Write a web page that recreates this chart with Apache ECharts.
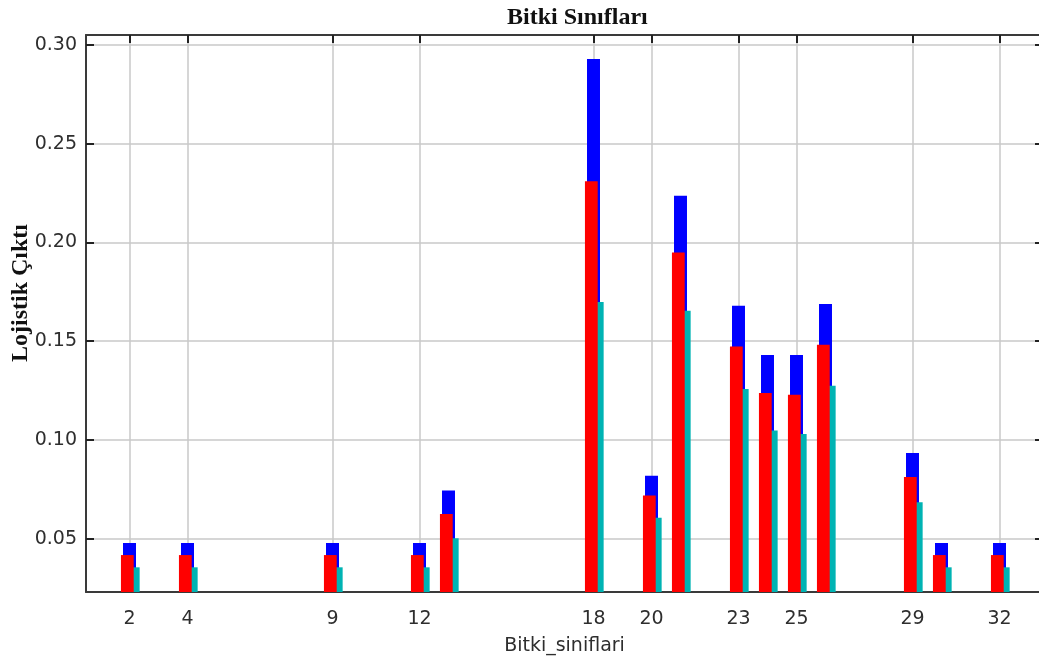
<!DOCTYPE html>
<html>
<head>
<meta charset="utf-8">
<style>
  html, body { margin: 0; padding: 0; background: #fff; }
  #chart { width: 1039px; height: 662px; }
</style>
<script src="https://cdn.jsdelivr.net/npm/echarts@6/dist/echarts.min.js"></script>
</head>
<body>
<div id="chart"></div>
<script>
// ---- data ----
const classes   = [2, 4, 9, 12, 13, 18, 20, 21, 23, 24, 25, 26, 29, 30, 32];
const blueVals  = [0.0478, 0.0478, 0.0478, 0.0478, 0.0744, 0.2928, 0.0819, 0.2236, 0.1679, 0.1430, 0.1430, 0.1688, 0.0934, 0.0478, 0.0478];
const redVals   = [0.0417, 0.0417, 0.0417, 0.0417, 0.0625, 0.2310, 0.0718, 0.1949, 0.1473, 0.1237, 0.1229, 0.1482, 0.0812, 0.0417, 0.0417];
const cyanVals  = [0.0355, 0.0355, 0.0355, 0.0355, 0.0502, 0.1698, 0.0606, 0.1654, 0.1258, 0.1048, 0.1030, 0.1274, 0.0684, 0.0355, 0.0355];
const xTicks    = [2, 4, 9, 12, 18, 20, 23, 25, 29, 32];
const yTicks    = [0.05, 0.10, 0.15, 0.20, 0.25, 0.30];
const titleText = 'Bitki Sınıfları';
const xName     = 'Bitki_siniflari';
const yName     = 'Lojistik Çıktı';

const chart = echarts.init(document.getElementById('chart'), null, { renderer: 'canvas' });

function barRenderer(leftFrac, rightFrac, color) {
  return function (params, api) {
    const x = api.value(0);
    const v = api.value(1);
    const top = api.coord([x, v]);
    const unit = api.size([1, 0])[0];
    const cs = params.coordSys;
    const bottom = cs.y + cs.height;
    const x0 = top[0] + leftFrac * unit;
    const x1 = top[0] + rightFrac * unit;
    return {
      type: 'rect',
      shape: { x: x0, y: top[1], width: x1 - x0, height: bottom - top[1] },
      style: { fill: color }
    };
  };
}

function mk(vals) { return classes.map((c, i) => [c, vals[i]]); }

const axisLineStyle = { color: '#3a3a3a', width: 2 };
const gridLine = { show: true, lineStyle: { color: '#c8c8c8', width: 1.5 } };
const labelFont = { fontFamily: 'DejaVu Sans', fontSize: 19, color: '#2e2e2e' };

const option = {
  backgroundColor: '#ffffff',
  animation: false,
  title: {
    text: titleText,
    left: 502,
    top: 1,
    textStyle: { fontFamily: 'Liberation Serif', fontWeight: 'bold', fontSize: 24, color: '#111' }
  },
  grid: { left: 86, top: 35, width: 957, height: 557, containLabel: false, outerBoundsMode: 'none' },
  xAxis: [{
    type: 'value',
    min: 0.5, max: 33.5,
    position: 'bottom',
    name: xName,
    nameLocation: 'middle',
    nameGap: 45,
    nameTextStyle: labelFont,
    axisLine: { show: true, onZero: false, lineStyle: axisLineStyle },
    axisTick: { show: false, customValues: xTicks },
    axisLabel: Object.assign({ customValues: xTicks, margin: 18 }, labelFont),
    splitLine: gridLine
  }, {
    type: 'value',
    min: 0.5, max: 33.5,
    position: 'top',
    axisLine: { show: true, onZero: false, lineStyle: axisLineStyle },
    axisTick: { show: true, inside: true, length: 8, customValues: xTicks, lineStyle: { color: '#222', width: 2 } },
    axisLabel: { show: false },
    splitLine: { show: false }
  }],
  yAxis: [{
    type: 'value',
    min: 0.023, max: 0.305,
    position: 'left',
    axisLine: { show: true, onZero: false, lineStyle: axisLineStyle },
    axisTick: { show: true, inside: true, length: 8, customValues: yTicks, lineStyle: { color: '#222', width: 2 } },
    axisLabel: Object.assign({ customValues: yTicks, margin: 9, formatter: v => v.toFixed(2) }, labelFont),
    splitLine: gridLine
  }, {
    type: 'value',
    min: 0.023, max: 0.305,
    position: 'right',
    axisLine: { show: true, onZero: false, lineStyle: axisLineStyle },
    axisTick: { show: true, inside: true, length: 8, customValues: yTicks, lineStyle: { color: '#222', width: 2 } },
    axisLabel: { show: false },
    splitLine: { show: false }
  }],
  graphic: [{
    type: 'text',
    x: 21, y: 293,
    rotation: Math.PI / 2,
    style: {
      text: yName,
      fontFamily: 'Liberation Serif',
      fontWeight: 'bold',
      fontSize: 24,
      fill: '#111',
      align: 'center',
      verticalAlign: 'middle'
    }
  }],
  series: [
    { type: 'custom', name: 'blue', xAxisIndex: 0, yAxisIndex: 0, clip: true,
      renderItem: barRenderer(-0.224, 0.224, '#0000ff'), data: mk(blueVals), encode: { x: 0, y: 1 } },
    { type: 'custom', name: 'cyan', xAxisIndex: 0, yAxisIndex: 0, clip: true,
      renderItem: barRenderer(-0.10, 0.35, '#00b3b3'), data: mk(cyanVals), encode: { x: 0, y: 1 } },
    { type: 'custom', name: 'red', xAxisIndex: 0, yAxisIndex: 0, clip: true,
      renderItem: barRenderer(-0.295, 0.145, '#ff0000'), data: mk(redVals), encode: { x: 0, y: 1 } }
  ]
};

chart.setOption(option);
</script>
</body>
</html>
